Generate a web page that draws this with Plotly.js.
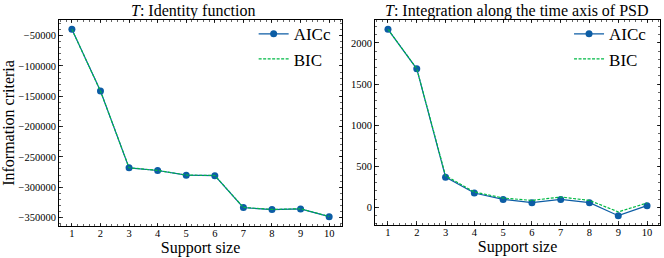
<!DOCTYPE html>
<html><head><meta charset="utf-8">
<script src="https://cdn.plot.ly/plotly-3.0.1.min.js"></script>
<style>html,body{margin:0;padding:0;background:#fff}#chart{width:664px;height:258px}</style>
</head><body><div id="chart"></div>
<script>
const supportSize = [1,2,3,4,5,6,7,8,9,10];
const identityAICc = [-39600,-141500,-268200,-272500,-280300,-281000,-333800,-337100,-336000,-348700];
const identityBIC  = [-39600,-141500,-268000,-272300,-280100,-280800,-333500,-336800,-335700,-348400];
const psdAICc = [2166,1685,368,175,97,57,97,57,-101,21];
const psdBIC  = [2166,1687,384,187,114,85,126,85,-55,53];
const leftTickVals = [-50000,-100000,-150000,-200000,-250000,-300000,-350000];
const leftTickText = ['\u221250000','\u2212100000','\u2212150000','\u2212200000','\u2212250000','\u2212300000','\u2212350000'];
const rightTickVals = [0,500,1000,1500,2000];
const rightTickText = ['0','500','1000','1500','2000'];

const blue = '#0C5DA5', green = '#00B945';
const F = "'Liberation Serif', 'Times New Roman', serif";

function aic(x,y,xa,ya,lg){return {x:x,y:y,xaxis:xa,yaxis:ya,legend:lg,name:'AICc',type:'scatter',mode:'lines+markers',
  line:{color:blue,width:1.2},marker:{color:blue,size:7}};}
function bic(x,y,xa,ya,lg){return {x:x,y:y,xaxis:xa,yaxis:ya,legend:lg,name:'BIC',type:'scatter',mode:'lines',
  line:{color:green,width:1.2,dash:'3px,1.5px'}};}

const data = [
  aic(supportSize,identityAICc,'x','y','legend'),
  bic(supportSize,identityBIC,'x','y','legend'),
  aic(supportSize,psdAICc,'x2','y2','legend2'),
  bic(supportSize,psdBIC,'x2','y2','legend2')
];

function xax(dom,anchor){return {domain:dom,anchor:anchor,range:[0.55,10.45],tickvals:supportSize,ticks:'inside',ticklen:3.5,tickwidth:0.8,
  tickcolor:'#000',mirror:'allticks',showline:true,linecolor:'#000',linewidth:1,showgrid:false,zeroline:false,
  tickfont:{family:F,size:10.5,color:'#000'},ticklabelstandoff:-3,
  minor:{dtick:0.2,tick0:0,ticks:'inside',ticklen:2,tickwidth:0.6,tickcolor:'#000',showgrid:false},
  title:{text:'Support size',font:{family:F,size:16,color:'#000'},standoff:2}};}
function yax(dom,anchor,range,tv,tt,minorD){return {domain:dom,anchor:anchor,range:range,tickvals:tv,ticktext:tt,ticks:'inside',ticklen:3.5,tickwidth:0.8,
  tickcolor:'#000',mirror:'allticks',showline:true,linecolor:'#000',linewidth:1,showgrid:false,zeroline:false,
  tickfont:{family:F,size:10.5,color:'#000'},
  minor:{dtick:minorD,tick0:0,ticks:'inside',ticklen:2,tickwidth:0.6,tickcolor:'#000',showgrid:false}};}

const layout = {
  width:664,height:258,margin:{l:0,r:0,t:0,b:0},paper_bgcolor:'#fff',plot_bgcolor:'#fff',
  font:{family:F,color:'#000'},
  xaxis:xax([0.0889,0.5151],'y'),
  yaxis:Object.assign(yax([0.124,0.9225],'x',[-364155,-24145],leftTickVals,leftTickText,10000),
    {title:{text:'Information criteria',font:{family:F,size:16,color:'#000'},standoff:6}}),
  xaxis2:xax([0.5648,0.994],'y2'),
  yaxis2:yax([0.128,0.9225],'x2',[-214,2279],rightTickVals,rightTickText,100),
  legend:{x:0.507,xanchor:'right',y:0.937,yanchor:'top',bgcolor:'rgba(0,0,0,0)',font:{family:F,size:17,color:'#000'},itemwidth:30},
  legend2:{x:0.982,xanchor:'right',y:0.937,yanchor:'top',bgcolor:'rgba(0,0,0,0)',font:{family:F,size:17,color:'#000'},itemwidth:30},
  showlegend:true,
  annotations:[
    {text:'<i>T</i>: Identity function',xref:'paper',yref:'paper',x:0.2907,xanchor:'center',y:1,yanchor:'top',yshift:0,showarrow:false,font:{family:F,size:16,color:'#000'}},
    {text:'<i>T</i>: Integration along the time axis of PSD',xref:'paper',yref:'paper',x:0.779,xanchor:'center',y:1,yanchor:'top',yshift:0,showarrow:false,font:{family:F,size:16,color:'#000'}}
  ]
};
Plotly.newPlot('chart',data,layout,{displayModeBar:false,staticPlot:true});
</script></body></html>
